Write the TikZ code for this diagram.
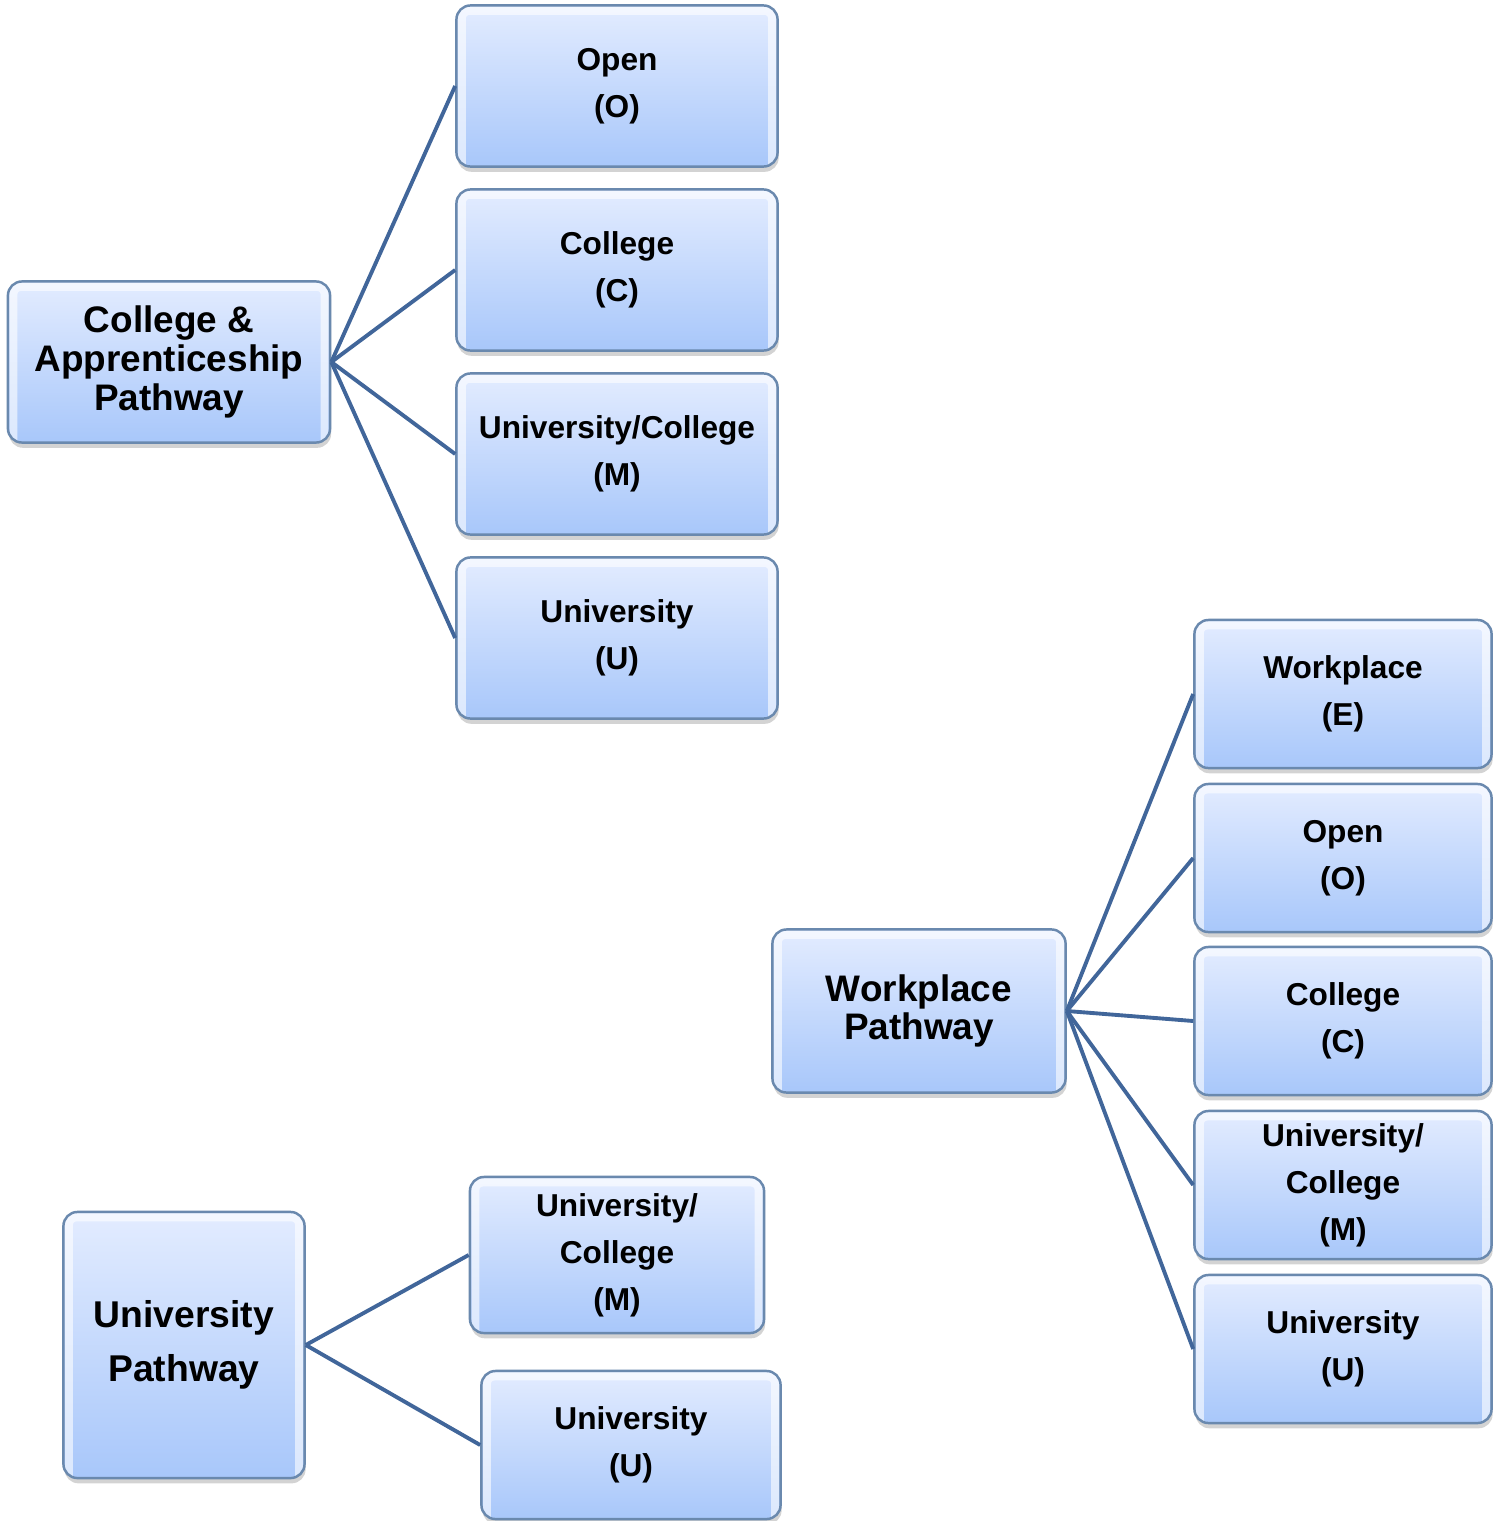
\documentclass[tikz,border=0pt]{standalone}
\usepackage{fontspec}
\setmainfont{Liberation Sans}
\usepackage{xcolor}
\usepackage{tikz}
\usetikzlibrary{shadows}
\definecolor{boxtop}{HTML}{E3ECFF}
\definecolor{boxbot}{HTML}{A8C7FA}
\definecolor{boxedge}{HTML}{6A89AE}
\definecolor{link}{HTML}{41669A}
\tikzset{
  pathbox/.style={rectangle, rounded corners=4pt, draw=boxedge, line width=0.7pt,
    top color=boxtop, bottom color=boxbot, inner sep=0pt, align=center,
    drop shadow={opacity=0.35, shadow xshift=0.3pt, shadow yshift=-1.5pt},
    path picture={\draw[white, opacity=0.6, line width=2.2pt, rounded corners=2pt]
      ([shift={(1.6pt,0.5pt)}]path picture bounding box.south west) --
      ([shift={(1.6pt,-1.6pt)}]path picture bounding box.north west) --
      ([shift={(-1.6pt,-1.6pt)}]path picture bounding box.north east) --
      ([shift={(-1.6pt,0.5pt)}]path picture bounding box.south east);},
    font=\bfseries\fontsize{10.5}{11}\selectfont},
  optbox/.style={pathbox, font=\bfseries\fontsize{9}{13.4}\selectfont},
  optL/.style={optbox, minimum width=3.21cm, minimum height=1.61cm},
  optR/.style={optbox, minimum width=2.97cm, minimum height=1.48cm},
  branch/.style={draw=link, line width=1.1pt}
}

\begin{document}
\begin{tikzpicture}[x=0.01cm, y=-0.01cm]
  \useasboundingbox (0,0) rectangle (1504,1521);

  % college & apprenticeship
  \node[pathbox, minimum width=3.22cm, minimum height=1.61cm] (ca) at (169,362)
    {College \&\\Apprenticeship\\Pathway};
  \node[optL] (caO) at (617,86) {Open\\(O)};
  \node[optL] (caC) at (617,270) {College\\(C)};
  \node[optL] (caM) at (617,454) {University/College\\(M)};
  \node[optL] (caU) at (617,638) {University\\(U)};
  \foreach \n in {caO,caC,caM,caU}
    \draw[branch] (ca.east) -- (\n.west);

  % workplace
  \node[pathbox, minimum width=2.93cm, minimum height=1.63cm] (wp) at (919,1011)
    {Workplace\\Pathway};
  \node[optR] (wpE) at (1343,694) {Workplace\\(E)};
  \node[optR] (wpO) at (1343,858) {Open\\(O)};
  \node[optR] (wpC) at (1343,1021) {College\\(C)};
  \node[optR] (wpM) at (1343,1185) {University/\\College\\(M)};
  \node[optR] (wpU) at (1343,1349) {University\\(U)};
  \foreach \n in {wpE,wpO,wpC,wpM,wpU}
    \draw[branch] (wp.east) -- (\n.west);

  % university
  \node[pathbox, minimum width=2.41cm, minimum height=2.66cm,
    font=\bfseries\fontsize{10.6}{15.4}\selectfont] (up) at (184,1345)
    {University\\Pathway};
  \node[optbox, minimum width=2.94cm, minimum height=1.56cm] (upM) at (617,1255)
    {University/\\College\\(M)};
  \node[optbox, minimum width=2.99cm, minimum height=1.48cm] (upU) at (631,1445)
    {University\\(U)};
  \draw[branch] (up.east) -- (upM.west);
  \draw[branch] (up.east) -- (upU.west);
\end{tikzpicture}
\end{document}
